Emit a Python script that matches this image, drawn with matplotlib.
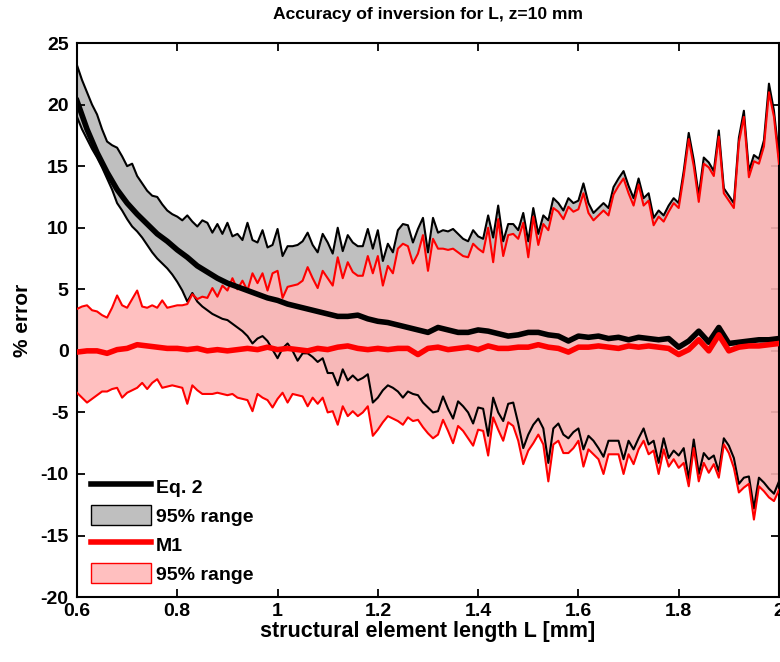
# accuracy_inversion.py
# -*- coding: utf-8 -*-

import numpy as np
import matplotlib
matplotlib.use("Agg")
import matplotlib.pyplot as plt
from matplotlib.lines import Line2D
from matplotlib.patches import Patch

# Structural element length grid [mm].
L_fine = np.round(np.arange(0.60, 2.0001, 0.01), 2)
L_coarse = np.round(np.arange(0.60, 2.0001, 0.02), 2)

# Eq. 2: upper and lower 95% bounds (% error).
eq2_hi = [23.2, 22.0, 21.0, 20.0, 19.2, 18.0, 17.0, 16.7, 16.5, 15.8,
          15.0, 15.2, 14.2, 13.6, 13.0, 12.6, 12.5, 11.9, 11.4, 11.1,
          10.9, 10.6, 11.0, 10.5, 10.1, 10.6, 10.4, 9.6, 10.3, 9.5,
          10.4, 9.3, 9.5, 9.0, 10.4, 9.0, 8.8, 9.8, 8.4, 8.6,
          9.9, 7.7, 8.5, 8.5, 8.6, 8.9, 9.6, 8.6, 8.0, 9.5,
          8.8, 7.9, 10.0, 8.1, 9.4, 8.8, 8.5, 8.5, 9.9, 8.3,
          9.8, 7.3, 8.7, 8.0, 9.8, 10.3, 10.2, 8.8, 9.9, 10.8,
          8.0, 10.8, 9.6, 9.8, 9.7, 9.9, 9.5, 9.1, 8.9, 9.8,
          9.3, 9.1, 11.0, 9.2, 11.8, 8.9, 10.3, 10.3, 9.8, 11.2,
          8.9, 11.6, 9.5, 11.0, 10.6, 12.4, 12.0, 11.4, 12.4, 12.0,
          12.2, 13.6, 12.0, 11.2, 11.6, 12.0, 11.6, 13.3, 14.0, 14.6,
          13.4, 12.4, 14.0, 12.4, 12.8, 10.8, 11.4, 11.0, 11.8, 12.4,
          12.0, 14.6, 17.7, 15.5, 12.6, 15.7, 15.3, 14.6, 17.9, 13.2,
          12.6, 12.0, 17.3, 19.5, 14.6, 15.9, 15.6, 17.1, 21.7, 19.5,
          15.7]
eq2_lo = [19.0, 18.0, 17.2, 16.4, 15.7, 14.9, 14.0, 13.1, 12.0, 11.4,
          10.7, 10.1, 9.7, 9.2, 8.6, 8.0, 7.5, 7.1, 6.7, 6.2,
          5.6, 4.9, 4.0, 4.7, 4.0, 3.6, 3.3, 3.0, 2.8, 2.6,
          2.5, 2.2, 1.9, 1.6, 1.2, 0.6, 1.0, 1.2, 0.8, 0.1,
          -0.6, 0.2, 0.6, 0.0, -0.8, -0.2, -0.2, -0.5, -0.9, -0.6,
          -1.8, -1.8, -2.8, -1.5, -2.4, -2.0, -2.4, -2.2, -1.9, -4.2,
          -3.8, -3.2, -2.8, -3.0, -3.3, -3.8, -3.3, -3.5, -3.6, -4.2,
          -4.6, -5.0, -4.9, -3.7, -4.7, -5.5, -4.1, -4.5, -5.0, -5.9,
          -4.6, -4.7, -6.9, -3.8, -5.0, -5.7, -4.3, -4.2, -5.9, -7.9,
          -6.8, -6.0, -5.5, -6.3, -9.1, -6.3, -5.9, -6.8, -7.1, -6.6,
          -6.3, -8.0, -6.9, -7.3, -7.9, -8.6, -7.3, -7.3, -7.3, -8.8,
          -7.3, -8.0, -7.1, -6.3, -7.6, -7.3, -9.1, -7.1, -8.7, -8.1,
          -8.5, -7.9, -10.4, -7.2, -10.0, -8.3, -8.8, -8.5, -9.8, -7.1,
          -7.7, -8.7, -10.8, -10.3, -10.2, -12.8, -10.3, -10.7, -11.2, -11.6,
          -10.6]

# M1: upper and lower 95% bounds (% error).
m1_hi = [3.4, 3.6, 3.7, 3.3, 3.2, 2.9, 2.7, 3.5, 4.5, 3.7,
         3.5, 4.2, 4.9, 3.6, 3.5, 3.7, 3.5, 4.1, 3.5, 3.6,
         3.7, 3.7, 3.8, 4.6, 4.2, 4.4, 4.3, 5.1, 4.4, 5.3,
         4.9, 5.9, 5.0, 5.7, 4.9, 6.3, 5.5, 6.3, 4.9, 6.3,
         6.5, 4.3, 5.2, 5.3, 5.4, 5.7, 6.8, 5.9, 5.1, 6.5,
         5.9, 5.3, 7.6, 5.9, 7.2, 6.4, 6.1, 6.1, 7.7, 6.3,
         7.7, 5.3, 6.9, 6.3, 8.3, 8.7, 8.5, 7.1, 7.9, 9.4,
         6.5, 9.1, 8.3, 8.3, 8.2, 8.3, 8.0, 7.7, 7.6, 8.7,
         8.3, 8.0, 10.0, 7.2, 10.7, 7.7, 9.4, 9.5, 9.1, 10.4,
         7.6, 10.9, 8.6, 10.3, 9.8, 11.6, 11.3, 10.7, 11.7, 11.3,
         11.5, 12.8, 11.2, 10.6, 11.0, 11.4, 11.0, 12.7, 13.4, 14.0,
         12.8, 11.8, 13.5, 11.8, 12.2, 10.2, 10.9, 10.5, 11.3, 12.0,
         11.6, 14.2, 17.2, 15.0, 12.1, 15.2, 14.9, 14.2, 17.4, 12.8,
         12.2, 11.6, 16.9, 19.0, 14.1, 15.4, 15.2, 16.6, 21.0, 19.0,
         15.2]
m1_lo = [-3.4, -3.8, -4.2, -3.9, -3.6, -3.3, -3.3, -3.1, -3.0, -3.8,
         -3.4, -3.2, -3.0, -2.6, -3.1, -2.6, -2.3, -3.0, -2.9, -2.8,
         -2.9, -3.0, -4.3, -2.8, -3.2, -3.5, -3.5, -3.5, -3.4, -3.5,
         -3.6, -3.5, -3.8, -3.9, -4.0, -4.9, -3.5, -3.8, -4.0, -4.6,
         -3.9, -3.4, -4.2, -3.5, -3.6, -3.7, -4.5, -3.8, -4.3, -3.8,
         -5.0, -4.9, -6.0, -4.5, -5.3, -4.9, -5.3, -5.0, -4.5, -6.9,
         -6.4, -5.8, -5.3, -5.5, -5.7, -6.0, -5.4, -5.7, -5.6, -6.2,
         -6.7, -7.1, -6.8, -5.6, -6.5, -7.5, -6.1, -6.5, -7.1, -7.7,
         -6.4, -6.5, -8.5, -5.4, -6.4, -7.3, -5.8, -6.1, -7.3, -9.2,
         -8.1, -7.5, -6.8, -7.6, -10.6, -7.6, -7.3, -8.3, -8.3, -7.9,
         -7.3, -9.4, -8.0, -8.4, -8.8, -10.0, -8.4, -8.4, -8.4, -10.0,
         -8.4, -9.2, -8.0, -7.3, -8.4, -8.1, -10.0, -8.0, -9.4, -8.8,
         -9.5, -9.1, -11.0, -7.9, -10.6, -9.1, -9.9, -9.2, -10.3, -7.6,
         -8.3, -9.5, -11.5, -11.1, -10.8, -13.7, -11.0, -11.4, -11.9, -12.2,
         -11.3]

# Median errors (% error) of Eq. 2 and M1.
eq2_mid = [20.3, 18.0, 16.1, 14.5, 13.1, 12.0, 11.1, 10.3, 9.5, 8.9,
           8.2, 7.6, 6.9, 6.4, 5.9, 5.5, 5.2, 4.9, 4.6, 4.3,
           4.1, 3.8, 3.6, 3.4, 3.2, 3.0, 2.8, 2.8, 2.9, 2.6,
           2.4, 2.3, 2.1, 1.9, 1.7, 1.5, 1.9, 1.7, 1.5, 1.5,
           1.7, 1.6, 1.4, 1.2, 1.3, 1.5, 1.5, 1.3, 1.2, 0.8,
           1.2, 1.1, 1.2, 1.0, 1.1, 0.9, 1.1, 1.0, 0.9, 1.0,
           0.3, 0.8, 1.6, 0.7, 1.9, 0.6, 0.7, 0.8, 0.9, 0.9,
           1.0]
m1_mid = [-0.1, 0.0, 0.0, -0.2, 0.1, 0.2, 0.5, 0.4, 0.3, 0.2,
          0.2, 0.1, 0.2, 0.0, 0.1, 0.0, 0.1, 0.2, 0.1, 0.3,
          0.1, 0.2, 0.1, 0.0, 0.2, 0.1, 0.3, 0.4, 0.2, 0.1,
          0.2, 0.1, 0.2, 0.2, -0.3, 0.2, 0.3, 0.1, 0.2, 0.3,
          0.1, 0.4, 0.2, 0.2, 0.3, 0.3, 0.5, 0.3, 0.2, -0.1,
          0.3, 0.3, 0.4, 0.3, 0.2, 0.4, 0.3, 0.4, 0.3, 0.2,
          -0.3, 0.1, 0.9, 0.0, 1.3, 0.0, 0.3, 0.4, 0.4, 0.5,
          0.6]

x_ticks = [0.6, 0.8, 1.0, 1.2, 1.4, 1.6, 1.8, 2.0]
x_ticklabels = ["0.6", "0.8", "1", "1.2", "1.4", "1.6", "1.8", "2"]
y_ticks = [25, 20, 15, 10, 5, 0, -5, -10, -15, -20]

plt.rcParams["font.family"] = ["Liberation Sans", "DejaVu Sans"]
plt.rcParams["font.weight"] = "bold"

fig = plt.figure(figsize=(7.8, 6.62), dpi=100)
ax = fig.add_axes([0.0987, 0.098, 0.9, 0.837])

gray_fill = (0.75, 0.75, 0.75)
pink_fill = (1.0, 0.72, 0.72)

ax.fill_between(L_fine, eq2_lo, eq2_hi, color=gray_fill, lw=0, zorder=1)
ax.fill_between(L_fine, m1_lo, m1_hi, color=pink_fill, alpha=0.88, lw=0, zorder=2)

ax.plot(L_fine, eq2_hi, color="black", lw=1.5, zorder=3)
ax.plot(L_fine, eq2_lo, color="black", lw=1.5, zorder=3)
ax.plot(L_fine, m1_hi, color="red", lw=1.5, zorder=4)
ax.plot(L_fine, m1_lo, color="red", lw=1.5, zorder=4)

ax.plot(L_coarse, eq2_mid, color="black", lw=4, zorder=5)
ax.plot(L_coarse, m1_mid, color="red", lw=4, zorder=5)

ax.set_xlim(0.6, 2.0)
ax.set_ylim(-20, 25)
ax.set_xticks(x_ticks)
ax.set_xticklabels(x_ticklabels)
ax.set_yticks(y_ticks)
ax.set_yticklabels([str(v) for v in y_ticks])
ax.tick_params(axis="both", direction="in", top=True, right=True,
               length=6, width=1.3, labelsize=14, pad=6)
ax.tick_params(axis="x", pad=4)
for spine in ax.spines.values():
    spine.set_linewidth(1.5)

ax.set_title("Accuracy of inversion for L, z=10 mm", fontsize=12.6,
             fontweight="bold", pad=17)
ax.set_xlabel("structural element length L [mm]", fontsize=15.5,
              fontweight="bold", labelpad=1)
ax.set_ylabel("% error", fontsize=15, fontweight="bold", labelpad=6)

handles = [
    Line2D([], [], color="black", lw=4),
    Patch(facecolor=gray_fill, edgecolor="black", lw=1),
    Line2D([], [], color="red", lw=4),
    Patch(facecolor=(1.0, 0.75, 0.75), edgecolor="red", lw=1),
]
labels = ["Eq. 2", "95% range", "M1", "95% range"]
ax.legend(handles, labels, loc="lower left", frameon=False, fontsize=14,
          handlelength=3.1, handleheight=1.15, labelspacing=0.45,
          handletextpad=0.25, borderaxespad=0.3)

fig.savefig("out.png", dpi=100)
